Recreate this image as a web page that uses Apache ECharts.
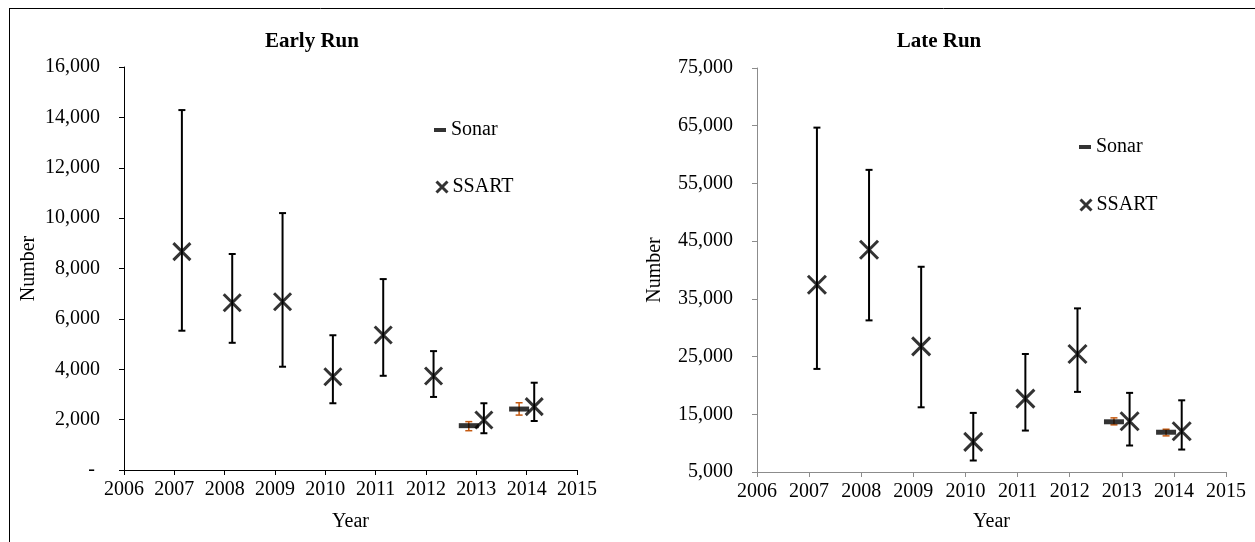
<!DOCTYPE html>
<html><head><meta charset="utf-8">
<script src="https://cdn.jsdelivr.net/npm/echarts@6/dist/echarts.min.js"></script>
<style>html,body{margin:0;padding:0;background:#fff}#c{width:1255px;height:542px}</style>
</head><body><div id="c"></div>
<script>
// ---- data ----
const years = [2007, 2008, 2009, 2010, 2011, 2012, 2013, 2014];
const earlySsart     = [8670, 6640, 6680, 3700, 5360, 3730, 1985, 2515];
const earlySsartLow  = [5530, 5050, 4100, 2650, 3740, 2900, 1460, 1945];
const earlySsartHigh = [14290, 8575, 10200, 5350, 7580, 4720, 2650, 3465];
const sonarYears = [2013, 2014];
const earlySonar     = [1760, 2420];
const earlySonarLow  = [1560, 2180];
const earlySonarHigh = [1920, 2670];
const lateSsart     = [37450, 43500, 26770, 10230, 17720, 25450, 13790, 12060];
const lateSsartLow  = [22860, 31270, 16210, 6990, 12180, 18880, 9590, 8890];
const lateSsartHigh = [64670, 57350, 40560, 15240, 25450, 33350, 18710, 17420];
const lateSonar     = [13700, 11890];
const lateSonarLow  = [13170, 11260];
const lateSonarHigh = [14380, 12410];
const xTicks = [2006, 2007, 2008, 2009, 2010, 2011, 2012, 2013, 2014, 2015];
const earlyTicks = [0, 2000, 4000, 6000, 8000, 10000, 12000, 14000, 16000];
const lateTicks = [5000, 15000, 25000, 35000, 45000, 55000, 65000, 75000];
const titles = ['Early Run', 'Late Run'];

// horizontal shift of the two series around each year (as in the source chart)
const ssartShift = 0.15, sonarShift = -0.15;

const FONT = "'Liberation Serif', 'Times New Roman', serif";
const X_PATH = 'path://M0,0L10,10M10,0L0,10';

function pts(xs, shift, ys) { return xs.map((x, i) => [x + shift, ys[i]]); }
function errPts(xs, shift, lo, hi) { return xs.map((x, i) => [x + shift, lo[i], hi[i]]); }

function errRender(color, capHalf, lw) {
  return function (params, api) {
    const x = api.value(0), lo = api.value(1), hi = api.value(2);
    const p1 = api.coord([x, lo]), p2 = api.coord([x, hi]);
    const st = { stroke: color, lineWidth: lw, fill: null };
    return { type: 'group', children: [
      { type: 'line', shape: { x1: p1[0], y1: p1[1], x2: p2[0], y2: p2[1] }, style: st },
      { type: 'line', shape: { x1: p1[0] - capHalf, y1: p1[1], x2: p1[0] + capHalf, y2: p1[1] }, style: st },
      { type: 'line', shape: { x1: p2[0] - capHalf, y1: p2[1], x2: p2[0] + capHalf, y2: p2[1] }, style: st }
    ]};
  };
}

function xAxisCfg(gi, color, nameGap) {
  return {
    type: 'value', gridIndex: gi, min: xTicks[0], max: xTicks[xTicks.length - 1], interval: 1,
    splitLine: { show: false },
    axisLine: { show: true, lineStyle: { color: color, width: 1 } },
    axisTick: { show: true, length: 5, lineStyle: { color: color } },
    axisLabel: { color: '#000', fontFamily: FONT, fontSize: 20, margin: 10, formatter: v => String(v) },
    name: 'Year', nameLocation: 'middle', nameGap: nameGap,
    nameTextStyle: { color: '#000', fontFamily: FONT, fontSize: 20 }
  };
}
function yAxisCfg(gi, ticks, color, nameGap, fmt) {
  return {
    type: 'value', gridIndex: gi, min: ticks[0], max: ticks[ticks.length - 1],
    interval: ticks[1] - ticks[0],
    splitLine: { show: false },
    axisLine: { show: true, lineStyle: { color: color, width: 1 } },
    axisTick: { show: true, length: 5, lineStyle: { color: color }, customValues: ticks },
    axisLabel: { color: '#000', fontFamily: FONT, fontSize: 20, margin: 24, formatter: fmt, customValues: ticks },
    name: 'Number', nameLocation: 'middle', nameGap: nameGap, nameRotate: 90,
    nameTextStyle: { color: '#000', fontFamily: FONT, fontSize: 20 }
  };
}
const numFmt = v => v === 0 ? '- ' : Number(v).toLocaleString('en-US');

function legendCfg(name, left, top, icon, w, h, itemStyle) {
  return {
    data: [{ name: name, icon: icon, itemStyle: itemStyle }],
    left: left, top: top, padding: 0, itemWidth: w, itemHeight: h,
    selectedMode: false,
    textStyle: { color: '#000', fontFamily: FONT, fontSize: 20, padding: [0, 0, 0, 0] }
  };
}

function seriesFor(gi, ssart, sLo, sHi, sonar, snLo, snHi, xSize) {
  return [
    { type: 'custom', name: 'ssartErr' + gi, xAxisIndex: gi, yAxisIndex: gi,
      renderItem: errRender('#000', 3.5, 2), encode: { x: 0, y: [1, 2] },
      data: errPts(years, ssartShift, sLo, sHi), z: 2, silent: true },
    { type: 'custom', name: 'sonarErr' + gi, xAxisIndex: gi, yAxisIndex: gi,
      renderItem: errRender('#C55A11', 3.5, 1.5), encode: { x: 0, y: [1, 2] },
      data: errPts(sonarYears, sonarShift, snLo, snHi), z: 2, silent: true },
    { type: 'scatter', name: 'Sonar', xAxisIndex: gi, yAxisIndex: gi,
      symbol: 'rect', symbolSize: [20, 5],
      itemStyle: { color: '#000' }, data: pts(sonarYears, sonarShift, sonar), z: 3 },
    { type: 'scatter', name: 'SSART', xAxisIndex: gi, yAxisIndex: gi,
      symbol: X_PATH, symbolSize: xSize,
      itemStyle: { color: '#000', borderColor: '#000', borderWidth: 3 },
      data: pts(years, ssartShift, ssart), z: 4 }
  ];
}

const chart = echarts.init(document.getElementById('c'), null, { renderer: 'canvas' });
chart.setOption({
  backgroundColor: '#fff',
  animation: false,
  title: [
    { text: titles[0], left: 307, top: 26, textAlign: 'center',
      textStyle: { fontFamily: FONT, fontSize: 21, fontWeight: 'bold', color: '#000' } },
    { text: titles[1], left: 934, top: 26, textAlign: 'center',
      textStyle: { fontFamily: FONT, fontSize: 21, fontWeight: 'bold', color: '#000' } }
  ],
  legend: [
    legendCfg('Sonar', 434, 120, 'rect', 12, 4, { color: '#000' }),
    legendCfg('SSART', 435, 177, X_PATH, 11, 11, { color: '#000', borderColor: '#000', borderWidth: 3 }),
    legendCfg('Sonar', 1079, 137, 'rect', 12, 4, { color: '#000' }),
    legendCfg('SSART', 1079, 195, X_PATH, 11, 11, { color: '#000', borderColor: '#000', borderWidth: 3 })
  ],
  grid: [
    { left: 124, right: 1255 - 577, top: 67, bottom: 542 - 470 },
    { left: 757, right: 1255 - 1226, top: 68, bottom: 542 - 472 }
  ],
  xAxis: [xAxisCfg(0, '#000', 42), xAxisCfg(1, '#8c8c8c', 40)],
  yAxis: [yAxisCfg(0, earlyTicks, '#000', 85, numFmt), yAxisCfg(1, lateTicks, '#8c8c8c', 92, numFmt)],
  graphic: [
    { type: 'line', shape: { x1: 9, y1: 8.5, x2: 1255, y2: 8.5 }, style: { stroke: '#000', lineWidth: 1 } },
    { type: 'line', shape: { x1: 9.5, y1: 8, x2: 9.5, y2: 542 }, style: { stroke: '#000', lineWidth: 1 } }
  ],
  series: [].concat(
    seriesFor(0, earlySsart, earlySsartLow, earlySsartHigh, earlySonar, earlySonarLow, earlySonarHigh, 17),
    seriesFor(1, lateSsart, lateSsartLow, lateSsartHigh, lateSonar, lateSonarLow, lateSonarHigh, 18)
  )
});
</script></body></html>
